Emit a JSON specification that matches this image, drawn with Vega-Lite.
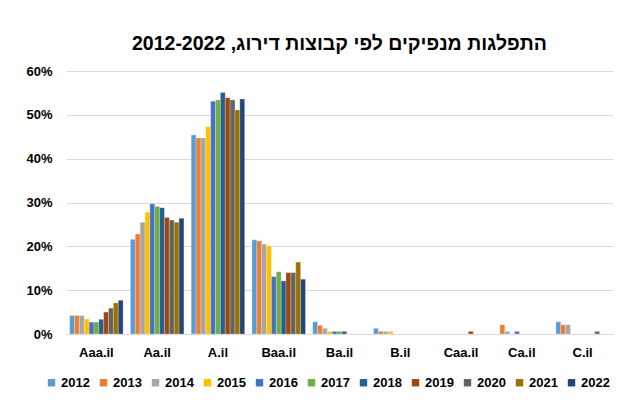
{
  "$schema": "https://vega.github.io/schema/vega-lite/v6.json",
  "autosize": {"type": "none"},
  "width": 547,
  "height": 263,
  "padding": {"left": 66, "top": 71, "right": 8, "bottom": 74},
  "background": "white",
  "title": {
    "text": "התפלגות מנפיקים לפי קבוצות דירוג, 2012-2022",
    "font": "Liberation Sans",
    "fontSize": 19.5,
    "fontWeight": "bold",
    "color": "#000000",
    "anchor": "middle",
    "offset": 11
  },
  "config": {
    "view": {"stroke": null},
    "font": "Liberation Sans"
  },
  "data": {
    "values": [
      {"cat": "Aaa.il", "year": "2012", "v": 0.042},
      {"cat": "Aaa.il", "year": "2013", "v": 0.042},
      {"cat": "Aaa.il", "year": "2014", "v": 0.042},
      {"cat": "Aaa.il", "year": "2015", "v": 0.034},
      {"cat": "Aaa.il", "year": "2016", "v": 0.027},
      {"cat": "Aaa.il", "year": "2017", "v": 0.027},
      {"cat": "Aaa.il", "year": "2018", "v": 0.0335},
      {"cat": "Aaa.il", "year": "2019", "v": 0.050},
      {"cat": "Aaa.il", "year": "2020", "v": 0.059},
      {"cat": "Aaa.il", "year": "2021", "v": 0.071},
      {"cat": "Aaa.il", "year": "2022", "v": 0.077},
      {"cat": "Aa.il", "year": "2012", "v": 0.216},
      {"cat": "Aa.il", "year": "2013", "v": 0.228},
      {"cat": "Aa.il", "year": "2014", "v": 0.255},
      {"cat": "Aa.il", "year": "2015", "v": 0.278},
      {"cat": "Aa.il", "year": "2016", "v": 0.297},
      {"cat": "Aa.il", "year": "2017", "v": 0.291},
      {"cat": "Aa.il", "year": "2018", "v": 0.288},
      {"cat": "Aa.il", "year": "2019", "v": 0.266},
      {"cat": "Aa.il", "year": "2020", "v": 0.260},
      {"cat": "Aa.il", "year": "2021", "v": 0.255},
      {"cat": "Aa.il", "year": "2022", "v": 0.264},
      {"cat": "A.il", "year": "2012", "v": 0.454},
      {"cat": "A.il", "year": "2013", "v": 0.447},
      {"cat": "A.il", "year": "2014", "v": 0.447},
      {"cat": "A.il", "year": "2015", "v": 0.473},
      {"cat": "A.il", "year": "2016", "v": 0.531},
      {"cat": "A.il", "year": "2017", "v": 0.534},
      {"cat": "A.il", "year": "2018", "v": 0.551},
      {"cat": "A.il", "year": "2019", "v": 0.539},
      {"cat": "A.il", "year": "2020", "v": 0.534},
      {"cat": "A.il", "year": "2021", "v": 0.511},
      {"cat": "A.il", "year": "2022", "v": 0.536},
      {"cat": "Baa.il", "year": "2012", "v": 0.215},
      {"cat": "Baa.il", "year": "2013", "v": 0.212},
      {"cat": "Baa.il", "year": "2014", "v": 0.205},
      {"cat": "Baa.il", "year": "2015", "v": 0.201},
      {"cat": "Baa.il", "year": "2016", "v": 0.131},
      {"cat": "Baa.il", "year": "2017", "v": 0.142},
      {"cat": "Baa.il", "year": "2018", "v": 0.121},
      {"cat": "Baa.il", "year": "2019", "v": 0.140},
      {"cat": "Baa.il", "year": "2020", "v": 0.140},
      {"cat": "Baa.il", "year": "2021", "v": 0.164},
      {"cat": "Baa.il", "year": "2022", "v": 0.125},
      {"cat": "Ba.il", "year": "2012", "v": 0.028},
      {"cat": "Ba.il", "year": "2013", "v": 0.020},
      {"cat": "Ba.il", "year": "2014", "v": 0.013},
      {"cat": "Ba.il", "year": "2015", "v": 0.006},
      {"cat": "Ba.il", "year": "2016", "v": 0.006},
      {"cat": "Ba.il", "year": "2017", "v": 0.006},
      {"cat": "Ba.il", "year": "2018", "v": 0.006},
      {"cat": "B.il", "year": "2012", "v": 0.013},
      {"cat": "B.il", "year": "2013", "v": 0.006},
      {"cat": "B.il", "year": "2014", "v": 0.006},
      {"cat": "B.il", "year": "2015", "v": 0.006},
      {"cat": "Caa.il", "year": "2019", "v": 0.006},
      {"cat": "Ca.il", "year": "2013", "v": 0.021},
      {"cat": "Ca.il", "year": "2014", "v": 0.006},
      {"cat": "Ca.il", "year": "2016", "v": 0.006},
      {"cat": "C.il", "year": "2012", "v": 0.028},
      {"cat": "C.il", "year": "2013", "v": 0.021},
      {"cat": "C.il", "year": "2014", "v": 0.021},
      {"cat": "C.il", "year": "2020", "v": 0.006}
    ]
  },
  "mark": {"type": "bar", "stroke": "#ffffff", "strokeWidth": 0.4, "strokeOpacity": 0.6},
  "encoding": {
    "x": {
      "field": "cat",
      "type": "nominal",
      "sort": ["Aaa.il", "Aa.il", "A.il", "Baa.il", "Ba.il", "B.il", "Caa.il", "Ca.il", "C.il"],
      "scale": {"domain": ["Aaa.il", "Aa.il", "A.il", "Baa.il", "Ba.il", "B.il", "Caa.il", "Ca.il", "C.il"], "paddingInner": 0.12, "paddingOuter": 0.06},
      "axis": {
        "title": null,
        "labelAngle": 0,
        "labelFont": "Liberation Sans",
        "labelFontSize": 13,
        "labelFontWeight": "bold",
        "labelColor": "#000000",
        "labelPadding": 12,
        "ticks": false,
        "domainColor": "#D9D9D9",
        "domainWidth": 1.2,
        "grid": false
      }
    },
    "xOffset": {
      "field": "year",
      "type": "nominal",
      "scale": {"domain": ["2012", "2013", "2014", "2015", "2016", "2017", "2018", "2019", "2020", "2021", "2022"], "paddingInner": 0, "paddingOuter": 0}
    },
    "y": {
      "field": "v",
      "type": "quantitative",
      "scale": {"domain": [0, 0.6], "nice": false},
      "axis": {
        "title": null,
        "format": ".0%",
        "values": [0, 0.1, 0.2, 0.3, 0.4, 0.5, 0.6],
        "labelFont": "Liberation Sans",
        "labelFontSize": 13,
        "labelFontWeight": "bold",
        "labelColor": "#000000",
        "labelPadding": 14,
        "ticks": false,
        "domain": false,
        "gridColor": "#D9D9D9",
        "gridWidth": 1.2
      }
    },
    "color": {
      "field": "year",
      "type": "nominal",
      "scale": {
        "domain": ["2012", "2013", "2014", "2015", "2016", "2017", "2018", "2019", "2020", "2021", "2022"],
        "range": ["#5B9BD5", "#ED7D31", "#A5A5A5", "#FFC000", "#4472C4", "#70AD47", "#255E91", "#9E480E", "#636363", "#997300", "#264478"]
      },
      "legend": {
        "title": null,
        "orient": "none",
        "legendX": -21,
        "legendY": 305,
        "direction": "horizontal",
        "columns": 11,
        "columnPadding": 7,
        "symbolType": "square",
        "symbolSize": 55,
        "symbolStrokeWidth": 0,
        "labelFont": "Liberation Sans",
        "labelFontSize": 13,
        "labelFontWeight": "bold",
        "labelColor": "#000000",
        "labelOffset": 3
      }
    }
  }
}
